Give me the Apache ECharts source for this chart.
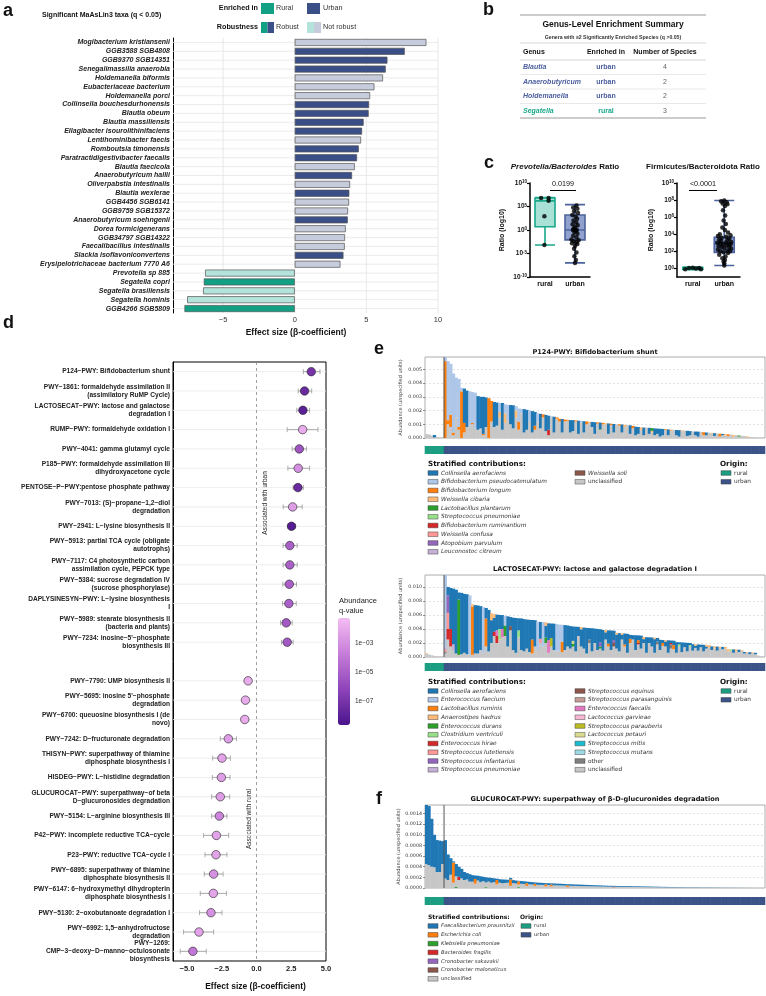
<!DOCTYPE html>
<html><head><meta charset="utf-8">
<script src="https://cdn.jsdelivr.net/npm/echarts@6/dist/echarts.min.js"></script>
<style>html,body{margin:0;padding:0;background:#fff}#c{width:766px;height:996px}</style>
</head><body><div id="c"></div>
<script>
// ================= DATA =================
// ---- Panel a: MaAsLin3 taxa
const taxa = ['Mogibacterium kristiansenii','GGB3588 SGB4808','GGB9370 SGB14351','Senegalimassilia anaerobia','Holdemanella biformis','Eubacteriaceae bacterium','Holdemanella porci','Collinsella bouchesdurhonensis','Blautia obeum','Blautia massiliensis','Ellagibacter isourolithinifaciens','Lentihominibacter faecis','Romboutsia timonensis','Paratractidigestivibacter faecalis','Blautia faecicola','Anaerobutyricum hallii','Oliverpabstia intestinalis','Blautia wexlerae','GGB4456 SGB6141','GGB9759 SGB15372','Anaerobutyricum soehngenii','Dorea formicigenerans','GGB34797 SGB14322','Faecalibacillus intestinalis','Slackia isoflavoniconvertens','Erysipelotrichaceae bacterium 7770 A6','Prevotella sp 885','Segatella copri','Segatella brasiliensis','Segatella hominis','GGB4266 SGB5809'];
const taxaBeta = [9.19,7.68,6.47,6.35,6.16,5.56,5.26,5.19,5.16,4.81,4.70,4.63,4.47,4.35,4.19,4.00,3.86,3.81,3.79,3.72,3.70,3.56,3.51,3.49,3.40,3.19,-6.26,-6.35,-6.40,-7.51,-7.70];
const taxaRobust = [0,1,1,1,0,0,0,1,1,1,1,0,1,1,0,1,0,1,0,0,1,0,0,0,1,0,0,1,0,0,1];
const taxaTicks = [-5,0,5,10];

// ---- Panel b: genus summary
const genusNames = ['Blautia','Anaerobutyricum','Holdemanella','Segatella'];
const genusEnriched = ['urban','urban','urban','rural'];
const genusCount = [4,2,2,3];

// ---- Panel c: ratios (log10 values)
const ratioGroups = ['rural','urban'];
const pbBox = [[-3.2,0.7,6.2,6.8,6.9],[-7.0,-2.1,0.0,3.2,5.4]];
const pbRuralPts = [[-0.13,6.8],[0.12,6.8],[0.12,6.2],[-0.02,2.9],[-0.02,-3.2]];
const pbUrbanPts = [[0.05,5.2],[-0.06,4.8],[0.08,4.5],[-0.03,4.0],[0.1,3.6],[-0.09,3.2],[0.02,2.8],[0.07,2.4],[-0.05,2.0],[0.04,1.6],[-0.08,1.2],[0.09,1.0],[0.0,0.6],[-0.04,0.3],[0.06,0.0],[-0.07,0.0],[0.03,-0.2],[-0.02,-0.4],[0.08,-0.8],[-0.06,-1.2],[0.05,-1.6],[-0.12,-2.0],[0.12,-2.2],[-0.05,-2.4],[0.05,-2.6],[-0.1,-2.8],[0.08,-3.0],[0.0,-3.4],[-0.03,-4.0],[0.05,-4.8],[-0.02,-5.6],[0.03,-6.4],[0.0,-7.0]];
const fbBox = [[-0.15,-0.1,0.0,0.1,0.15],[0.35,1.88,2.96,3.65,7.96]];
const fbRuralPts = [[-0.24,-0.1],[-0.12,0.05],[0.0,0.08],[0.1,0.0],[0.2,0.06],[0.26,-0.08]];
const fbUrbanPts = [[0.0,7.96],[-0.1,7.85],[0.08,7.75],[-0.05,7.6],[0.1,7.5],[0.02,7.3],[-0.04,6.8],[0.03,6.2],[-0.02,5.6],[0.05,5.2],[-0.06,4.8],[0.02,4.5],[0.12,4.2],[-0.14,4.0],[0.2,3.9],[-0.2,3.8],[0.06,3.7],[-0.08,3.6],[0.16,3.5],[-0.16,3.4],[0.1,3.3],[-0.1,3.2],[0.22,3.1],[-0.22,3.0],[0.04,3.0],[0.14,2.9],[-0.12,2.9],[0.2,2.8],[-0.04,2.8],[0.08,2.7],[-0.18,2.6],[0.16,2.5],[-0.08,2.5],[0.0,2.4],[0.22,2.3],[-0.2,2.2],[0.1,2.1],[-0.12,2.0],[0.18,2.0],[-0.02,1.9],[0.12,1.8],[-0.16,1.6],[0.04,1.4],[-0.06,1.2],[0.02,1.0],[-0.02,0.8],[0.0,0.6],[0.0,0.35]];
const pbP = '0.0199', fbP = '<0.0001';

// ---- Panel d: pathways
const pathNames = ['P124−PWY: Bifidobacterium shunt','PWY−1861: formaldehyde assimilation II\n(assimilatory RuMP Cycle)','LACTOSECAT−PWY: lactose and galactose\ndegradation I','RUMP−PWY: formaldehyde oxidation I','PWY−4041: gamma glutamyl cycle','P185−PWY: formaldehyde assimilation III\ndihydroxyacetone cycle','PENTOSE−P−PWY:pentose phosphate pathway','PWY−7013: (S)−propane−1,2−diol\ndegradation','PWY−2941: L−lysine biosynthesis II','PWY−5913: partial TCA cycle (obligate\nautotrophs)','PWY−7117: C4 photosynthetic carbon\nassimilation cycle, PEPCK type','PWY−5384: sucrose degradation IV\n(sucrose phosphorylase)','DAPLYSINESYN−PWY: L−lysine biosynthesis\nI','PWY−5989: stearate biosynthesis II\n(bacteria and plants)','PWY−7234: inosine−5\'−phosphate\nbiosynthesis III','','PWY−7790: UMP biosynthesis II','PWY−5695: inosine 5\'−phosphate\ndegradation','PWY−6700: queuosine biosynthesis I (de\nnovo)','PWY−7242: D−fructuronate degradation','THISYN−PWY: superpathway of thiamine\ndiphosphate biosynthesis I','HISDEG−PWY: L−histidine degradation','GLUCUROCAT−PWY: superpathway−of beta\nD−glucuronosides degradation','PWY−5154: L−arginine biosynthesis III','P42−PWY: incomplete reductive TCA−cycle','P23−PWY: reductive TCA−cycle I','PWY−6895: superpathway of thiamine\ndiphosphate biosynthesis II','PWY−6147: 6−hydroxymethyl dihydropterin\ndiphosphate biosynthesis I','PWY−5130: 2−oxobutanoate degradation I','PWY−6992: 1,5−anhydrofructose\ndegradation','PWY−1269:\nCMP−3−deoxy−D−manno−octulosonate\nbiosynthesis'];
const pathBeta = [3.94,3.46,3.34,3.32,3.08,3.0,2.98,2.6,2.52,2.4,2.4,2.36,2.33,2.14,2.21,null,-0.6,-0.79,-0.84,-2.02,-2.48,-2.52,-2.6,-2.67,-2.88,-2.91,-3.08,-3.1,-3.27,-4.13,-4.57];
const pathLo = [3.37,3.0,2.9,2.21,2.57,2.26,2.64,1.92,2.26,1.92,1.92,1.9,1.88,1.73,1.8,null,-0.6,-0.79,-0.84,-2.6,-3.15,-3.17,-3.22,-3.22,-3.8,-3.7,-3.75,-4.04,-4.09,-5.24,-5.48];
const pathHi = [4.57,3.97,3.82,4.42,3.6,3.82,3.37,3.29,2.81,2.93,2.93,2.88,2.86,2.57,2.64,null,-0.6,-0.79,-0.84,-1.44,-1.88,-1.9,-1.92,-2.12,-2.0,-2.12,-2.4,-2.16,-2.48,-3.08,-3.61];
const pathLogQ = [-7,-7.5,-8,-2,-5.5,-3,-7.5,-2.5,-8.2,-5,-5,-5,-5,-5.3,-5.3,null,-2,-2,-2,-2.5,-2.3,-2.5,-2.5,-3.5,-2.3,-2.3,-3,-2.2,-3,-2.3,-4];
const pathTicks = [-5,-2.5,0,2.5,5];
const qTickLabels = ['1e−03','1e−05','1e−07'];

// ---- Panels e/f: stratified contributions (7 rural + 118 urban samples)
const ruralN = 7, urbanN = 118;
// P124-PWY (units 1e-5)
const e1_unclassified = [30,26,18,4,8,4,2, 0,100,80,20,150,60,0,40,80,90, 100,70,60,70,20,80,0,120,80,90, 150,60,110,130,100,70,150,60,180,40, 60,120,40,60,120,70,150,50,20,150, 40,140,120,40,120,125,40,50,120,30, 115,40,100,110,80,30,105,60,100,100, 30,95,40,98,90,40,80,94,30,70, 20,30,60,20,75,30,40,20,30,10, 20,60,20,55,59,20,10,50,54,15, 20,48,20,10,44,20,20,38,30,15, 33,10,20,18,15,25,10,20,10,16, 14,6,8,6,4,3,2,1];
const e1_collinsella = [0,0,0,18,0,0,0, 0,0,0,0,0,0,0,250,265,0, 0,0,245,230,270,215,0,0,182,168, 0,195,0,0,140,168,0,0,0,170, 145,0,156,100,0,106,0,118,102,0, 115,0,0,98,0,0,90,80,0,96, 0,82,0,0,37,85,0,47,0,0, 76,0,62,0,0,58,0,0,62,0, 62,50,0,56,0,44,0,50,38,57, 46,0,42,0,0,38,47,0,0,37, 30,0,27,36,0,0,20,0,0,20, 0,0,10,0,0,0,0,0,0,0, 0,0,0,0,0,0,0,0];
const e1_pseudocatenulatum = [[7,33],[8,430],[9,370],[10,430],[11,290],[12,350],[13,25],[16,250],[17,225],[18,260],[27,66],[29,65],[30,112],[33,32],[34,95],[35,32],[38,80],[41,60],[46,8],[57,10],[70,2]];
const e1_longum = [[7,560],[8,30],[9,90],[10,20],[12,20],[13,340],[14,70],[17,10],[21,10],[23,290],[24,150],[34,60],[40,30],[43,22],[48,10],[49,20],[51,14],[52,7],[55,8],[59,20],[63,9],[65,10],[68,9],[71,10],[76,18],[88,5],[90,5],[102,22],[108,21],[111,12]];
const e1_cibaria = [[27,40],[29,70],[33,50],[60,8],[66,8],[73,16],[79,18],[83,12],[94,6],[105,6],[110,10],[113,12],[118,6]];
const e1_plantarum = [[64,5],[83,20],[115,8]];
const e1_ruminantium = [[45,40]];
// LACTOSECAT-PWY (units 1e-5)
const e2_unclassified = [45,35,25,15,10,8,5, 50,250,150,100,50,30,40,60,40,30, 30,50,50,100,60,150,80,200,300,200, 250,280,300,150,380,100,60,280,100,80, 120,70,50,150,100,200,150,200,60,150, 100,80,90,70,100,150,120,150,80,300, 150,120,50,200,80,200,100,120,90,250, 150,100,150,120,80,250,150,60,200,250, 100,180,120,200,60,200,150,60,180,100, 160,150,60,120,110,60,150,70,140,80, 150,90,130,90,140,80,120,140,100,120, 90,130,110,120,80,90,60,80,70,90, 50,60,40,55,40,20,10,5];
const e2_collinsella = [0,0,0,0,0,0,0, 0,120,585,795,910,100,875,840,855,0, 0,690,685,625,0,150,592,325,200,225, 200,198,0,430,130,460,496,172,450,460, 415,460,278,375,0,240,0,165,240,208, 375,0,0,0,355,300,320,205,352,130, 245,300,365,162,330,205,300,185,295,102, 190,278,135,200,260,68,155,270,55,62, 210,68,185,55,222,80,128,195,52,145, 42,70,178,35,62,152,30,138,65,122, 30,92,30,88,36,94,30,0,52,0, 58,0,34,0,0,0,48,0,34,0, 22,0,28,0,20,0,0,0];
const e2_faecium = [[7,1030],[16,850],[21,650],[29,135],[41,405],[43,348],[48,390],[49,372],[50,240]];
const e2_ruminis = [[17,690],[22,400],[39,200],[50,150],[67,40],[73,30],[75,60],[78,40],[87,40],[91,60]];
const e2_hadrus = [[0,10],[17,30],[24,100],[25,50],[44,50],[57,30],[66,30],[70,25],[72,20],[80,30],[84,20],[88,20],[99,20],[103,22],[104,30],[106,30],[108,16],[110,22],[111,32],[114,26],[116,10],[118,10],[120,10]];
const e2_durans = [[12,790],[29,150],[44,80],[54,40],[64,30]];
const e2_ventriculi = [[27,150],[34,100],[93,30],[97,20],[112,20]];
const e2_hirae = [[8,150],[9,250],[25,60],[26,100],[78,20],[90,20]];
const e2_lutetiensis = [[7,30],[8,230],[42,60]];
const e2_infantarius = [[8,250],[64,60],[69,40]];
const e2_pneumoniae = [[7,40],[10,80]];
const e2_equinus = [[31,60],[69,50]];
const e2_faecalis = [[26,80],[28,120],[45,180]];
const e2_parauberis = [[46,120]];
const e2_petauri = [[54,40]];
const e2_other = [[7,20],[60,50],[85,40],[90,60]];
// GLUCUROCAT-PWY (units 1e-6)
const f_unclassified = [450,430,400,390,300,300,450, 180,150,250,100,200,150,180,150,160,120, 120,80,140,110,130,90,120,100,110,70, 100,90,95,100,40,90,85,50,80,75, 40,70,65,40,60,60,58,30,55,30, 50,50,48,46,45,20,42,40,40,38, 36,35,34,33,32,30,30,28,27,26, 25,24,15,23,22,22,21,20,20,19, 19,18,18,17,16,16,15,15,14,14, 13,12,12,11,11,10,10,9,8,8, 7,7,6,6,6,6,5,5,5,5, 4,4,4,4,3,3,2,2,2,2, 2,1,1,1,1,1,1,0];
const f_faecalibacterium = [1110,1110,900,610,600,590,430, 720,480,310,20,230,190,180,150,120,140, 120,65,90,110,80,95,75,90,70,25, 65,70,63,55,30,58,55,10,50,50, 30,45,45,25,40,38,37,22,35,23, 35,32,32,32,30,22,28,28,26,26, 26,25,24,23,22,22,20,20,19,18, 17,17,15,16,16,15,15,15,14,14, 13,13,12,12,12,11,11,10,10,9, 9,9,8,8,7,7,6,6,6,5, 5,5,5,5,4,4,4,4,3,3, 3,3,2,2,2,2,2,2,1,1, 1,1,1,1,0,0,0,0];
const f_ecoli = [[10,380],[18,90],[26,80],[31,120],[34,60],[37,50],[40,40],[44,40],[46,35],[52,30]];
const f_klebsiella = [[11,20],[22,15],[34,15]];
const f_fragilis = [[12,60],[69,10]];

// ================= HELPERS =================
const LIB = 'Liberation Sans', MPL = 'DejaVu Sans';
const NS = ruralN + urbanN;
const sampleIds = Array.from({length: NS}, (_, i) => 'S' + (i + 1));
const sampleOrigin = sampleIds.map((_, i) => i < ruralN ? 'rural' : 'urban');
function dense(p) { if (!Array.isArray(p[0]) && p.length === NS) return p; const a = new Array(NS).fill(0); p.forEach(([i, v]) => a[i] = v); return a; }
const minus = v => (v < 0 ? '−' + Math.abs(v) : String(v));
const cRural = '#12a084', cUrban = '#3a4f87', cRuralNR = '#b3e3da', cUrbanNR = '#c6ccdb';
const oRural = '#1b9e82', oUrban = '#3b5387';

function T(text, x, y, o) { o = o || {}; const st = {text, fill: o.fill || '#111', fontSize: o.size || 7, fontFamily: o.family || LIB, fontWeight: o.weight || 'normal', fontStyle: o.style || 'normal', align: o.align || 'left', verticalAlign: o.valign || 'middle'}; if (o.rich) st.rich = o.rich; return {type: 'text', x, y, rotation: o.rot || 0, silent: true, style: st}; }
function R(x, y, w, h, fill, stroke, lw) { return {type: 'rect', silent: true, shape: {x, y, width: w, height: h}, style: {fill, stroke: stroke || null, lineWidth: lw || 0}}; }
function L(x1, y1, x2, y2, stroke, lw) { return {type: 'line', silent: true, shape: {x1, y1, x2, y2}, style: {stroke, lineWidth: lw || 1}}; }

// species definitions (legend order)
const e1Species = [
  {name: 'Collinsella aerofaciens', color: '#1f77b4', d: e1_collinsella},
  {name: 'Bifidobacterium pseudocatenulatum', color: '#aec7e8', d: e1_pseudocatenulatum},
  {name: 'Bifidobacterium longum', color: '#ff7f0e', d: e1_longum},
  {name: 'Weissella cibaria', color: '#ffbb78', d: e1_cibaria},
  {name: 'Lactobacillus plantarum', color: '#2ca02c', d: e1_plantarum},
  {name: 'Streptococcus pneumoniae', color: '#98df8a', d: []},
  {name: 'Bifidobacterium ruminantium', color: '#d62728', d: e1_ruminantium},
  {name: 'Weissella confusa', color: '#ff9896', d: []},
  {name: 'Atopobium parvulum', color: '#9467bd', d: []},
  {name: 'Leuconostoc citreum', color: '#c5b0d5', d: []},
  {name: 'Weissella soli', color: '#8c564b', d: []},
  {name: 'unclassified', color: '#c7c7c7', d: e1_unclassified}];
const e1Order = ['unclassified','Bifidobacterium longum','Weissella cibaria','Lactobacillus plantarum','Bifidobacterium ruminantium','Collinsella aerofaciens','Bifidobacterium pseudocatenulatum'];
const e2Species = [
  {name: 'Collinsella aerofaciens', color: '#1f77b4', d: e2_collinsella},
  {name: 'Enterococcus faecium', color: '#aec7e8', d: e2_faecium},
  {name: 'Lactobacillus ruminis', color: '#ff7f0e', d: e2_ruminis},
  {name: 'Anaerostipes hadrus', color: '#ffbb78', d: e2_hadrus},
  {name: 'Enterococcus durans', color: '#2ca02c', d: e2_durans},
  {name: 'Clostridium ventriculi', color: '#98df8a', d: e2_ventriculi},
  {name: 'Enterococcus hirae', color: '#d62728', d: e2_hirae},
  {name: 'Streptococcus lutetiensis', color: '#ff9896', d: e2_lutetiensis},
  {name: 'Streptococcus infantarius', color: '#9467bd', d: e2_infantarius},
  {name: 'Streptococcus pneumoniae', color: '#c5b0d5', d: e2_pneumoniae},
  {name: 'Streptococcus equinus', color: '#8c564b', d: e2_equinus},
  {name: 'Streptococcus parasanguinis', color: '#c49c94', d: []},
  {name: 'Enterococcus faecalis', color: '#e377c2', d: e2_faecalis},
  {name: 'Lactococcus garvieae', color: '#f7b6d2', d: []},
  {name: 'Streptococcus parauberis', color: '#bcbd22', d: e2_parauberis},
  {name: 'Lactococcus petauri', color: '#dbdb8d', d: e2_petauri},
  {name: 'Streptococcus mitis', color: '#17becf', d: []},
  {name: 'Streptococcus mutans', color: '#9edae5', d: []},
  {name: 'other', color: '#7f7f7f', d: e2_other},
  {name: 'unclassified', color: '#c7c7c7', d: e2_unclassified}];
const e2Order = ['unclassified','other','Streptococcus equinus','Enterococcus durans','Clostridium ventriculi','Enterococcus hirae','Streptococcus lutetiensis','Streptococcus infantarius','Streptococcus pneumoniae','Enterococcus faecalis','Streptococcus parauberis','Lactococcus petauri','Lactobacillus ruminis','Enterococcus faecium','Collinsella aerofaciens','Anaerostipes hadrus'];
const fSpecies = [
  {name: 'Faecalibacterium prausnitzii', color: '#1f77b4', d: f_faecalibacterium},
  {name: 'Escherichia coli', color: '#ff7f0e', d: f_ecoli},
  {name: 'Klebsiella pneumoniae', color: '#2ca02c', d: f_klebsiella},
  {name: 'Bacteroides fragilis', color: '#d62728', d: f_fragilis},
  {name: 'Cronobacter sakazakii', color: '#9467bd', d: []},
  {name: 'Cronobacter malonaticus', color: '#8c564b', d: []},
  {name: 'unclassified', color: '#c7c7c7', d: f_unclassified}];
const fOrder = ['Klebsiella pneumoniae','unclassified','Escherichia coli','Bacteroides fragilis','Faecalibacterium prausnitzii'];

// ================= OPTION =================
const grids = [
  {left: 173, top: 38, width: 265, height: 275},   // 0 a
  {left: 530, top: 183, width: 60, height: 94},    // 1 c left
  {left: 677, top: 183, width: 63, height: 94},    // 2 c right
  {left: 173, top: 362, width: 153, height: 605, show: true, borderColor: '#000', borderWidth: 1}, // 3 d
  {left: 425, top: 357, width: 340, height: 81, show: true, borderColor: '#9a9a9a', borderWidth: 0.8}, // 4 e1
  {left: 425, top: 446, width: 340, height: 8},    // 5
  {left: 425, top: 575, width: 340, height: 82, show: true, borderColor: '#9a9a9a', borderWidth: 0.8}, // 6 e2
  {left: 425, top: 663, width: 340, height: 8},    // 7
  {left: 425, top: 805, width: 340, height: 83, show: true, borderColor: '#9a9a9a', borderWidth: 0.8}, // 8 f
  {left: 425, top: 897, width: 340, height: 8}     // 9
];
const expLabel = {formatter: v => '{a|10}{b|' + minus(v).replace('−', '-') + '}', rich: {a: {fontSize: 6.5, fontWeight: 'bold', fontFamily: LIB, color: '#111'}, b: {fontSize: 4.5, fontWeight: 'bold', fontFamily: LIB, color: '#111', verticalAlign: 'top'}}, margin: 3};

function eY(grid, max, interval, dec) {
  return {gridIndex: grid, type: 'value', min: 0, max, interval, axisLine: {show: false}, axisTick: {show: true, length: 2, lineStyle: {color: '#444', width: 0.6}},
    axisLabel: {fontSize: 4.8, fontFamily: MPL, color: '#333', margin: 3, showMaxLabel: false, formatter: v => v.toFixed(dec)},
    splitLine: {show: true, lineStyle: {color: '#cfcfcf', type: [2, 2], width: 0.6}},
    name: 'Abundance (unspecified units)', nameLocation: 'middle', nameGap: 22, nameTextStyle: {fontSize: 5, fontFamily: MPL, color: '#444'}};
}
const xAxes = [
  {gridIndex: 0, type: 'value', min: -8.5, max: 10, axisLine: {onZero: false, lineStyle: {color: '#000', width: 1}}, axisTick: {customValues: taxaTicks, length: 3, lineStyle: {color: '#000'}}, axisLabel: {customValues: taxaTicks, fontSize: 7.5, color: '#333', margin: 3, formatter: minus}, splitLine: {show: false}},
  {gridIndex: 1, type: 'category', data: ratioGroups, axisLine: {onZero: false, lineStyle: {color: '#000', width: 1.5}}, axisTick: {alignWithLabel: true, length: 3, lineStyle: {width: 1.2}}, axisLabel: {fontSize: 7, fontWeight: 'bold', color: '#111', margin: 4}},
  {gridIndex: 1, type: 'value', min: -0.5, max: 1.5, show: false},
  {gridIndex: 2, type: 'category', data: ratioGroups, axisLine: {onZero: false, lineStyle: {color: '#000', width: 1.5}}, axisTick: {alignWithLabel: true, length: 3, lineStyle: {width: 1.2}}, axisLabel: {fontSize: 7, fontWeight: 'bold', color: '#111', margin: 4}},
  {gridIndex: 2, type: 'value', min: -0.5, max: 1.5, show: false},
  {gridIndex: 3, type: 'value', min: -6, max: 5, axisLine: {onZero: false, lineStyle: {color: '#000', width: 1}}, axisTick: {customValues: pathTicks, length: 3, lineStyle: {color: '#000'}}, axisLabel: {customValues: pathTicks, fontSize: 7.5, fontWeight: 'bold', color: '#222', margin: 4, formatter: v => (v < 0 ? '−' : '') + Math.abs(v).toFixed(1)}, splitLine: {show: false},
    name: 'Effect size (β-coefficient)', nameLocation: 'middle', nameGap: 21, nameTextStyle: {fontSize: 8.5, fontWeight: 'bold', color: '#111', padding: [0, 0, 0, 12]}},
  {gridIndex: 4, type: 'category', data: sampleIds, show: false},
  {gridIndex: 5, type: 'category', data: sampleIds, show: false},
  {gridIndex: 6, type: 'category', data: sampleIds, show: false},
  {gridIndex: 7, type: 'category', data: sampleIds, show: false},
  {gridIndex: 8, type: 'category', data: sampleIds, show: false},
  {gridIndex: 9, type: 'category', data: sampleIds, show: false}
];
const yAxes = [
  {gridIndex: 0, type: 'category', data: taxa, inverse: true, axisLine: {onZero: false, lineStyle: {color: '#000', width: 1}}, axisTick: {alignWithLabel: true, length: 3, lineStyle: {color: '#000'}}, axisLabel: {interval: 0, fontSize: 7, fontWeight: 'bold', fontStyle: 'italic', color: '#222', margin: 3}},
  Object.assign({gridIndex: 1, type: 'value', min: -10, max: 10, interval: 5, axisLine: {show: true, onZero: false, lineStyle: {color: '#000', width: 1.5}}, axisTick: {show: true, length: 3, lineStyle: {width: 1.2}}, splitLine: {show: false},
    name: 'Ratio (log10)', nameLocation: 'middle', nameGap: 24, nameTextStyle: {fontSize: 7, fontWeight: 'bold', color: '#111'}}, {axisLabel: expLabel}),
  {gridIndex: 2, type: 'value', min: -1, max: 10, axisLine: {show: true, onZero: false, lineStyle: {color: '#000', width: 1.5}}, axisTick: {show: true, customValues: [0, 2, 4, 6, 8, 10], length: 3, lineStyle: {width: 1.2}}, splitLine: {show: false},
    axisLabel: Object.assign({customValues: [0, 2, 4, 6, 8, 10]}, expLabel), name: 'Ratio (log10)', nameLocation: 'middle', nameGap: 22, nameTextStyle: {fontSize: 7, fontWeight: 'bold', color: '#111'}},
  {gridIndex: 3, type: 'category', data: pathNames, inverse: true, axisLine: {onZero: false, lineStyle: {color: '#000', width: 1}}, axisTick: {alignWithLabel: true, length: 3, interval: (i, v) => v !== '', lineStyle: {color: '#000'}}, axisLabel: {interval: 0, fontSize: 6.6, fontWeight: 'bold', color: '#222', lineHeight: 8, margin: 3, align: 'right'}},
  eY(4, 0.0059, 0.001, 3),
  {gridIndex: 5, type: 'value', min: 0, max: 1, show: false},
  eY(6, 0.0117, 0.002, 3),
  {gridIndex: 7, type: 'value', min: 0, max: 1, show: false},
  eY(8, 0.00156, 0.0002, 4),
  {gridIndex: 9, type: 'value', min: 0, max: 1, show: false}
];

const series = [];
// ---- panel a
series.push({type: 'custom', xAxisIndex: 0, yAxisIndex: 0, silent: true, z: 1, data: taxa.map((_, i) => [0, i]), encode: {x: 0, y: 1},
  renderItem: (p, api) => { const cs = p.coordSys; const y = api.coord([0, api.value(1)])[1]; return {type: 'line', shape: {x1: cs.x, y1: y, x2: cs.x + cs.width, y2: y}, style: {stroke: '#e6e6e6', lineWidth: 0.8}}; }});
series.push({type: 'custom', xAxisIndex: 0, yAxisIndex: 0, silent: true, z: 1, data: taxaTicks.map(v => [v, 0]), encode: {x: 0, y: 1},
  renderItem: (p, api) => { const cs = p.coordSys; const x = api.coord([api.value(0), 0])[0]; return {type: 'line', shape: {x1: x, y1: cs.y, x2: x, y2: cs.y + cs.height}, style: {stroke: '#e3e3e3', lineWidth: 0.8}}; }});
series.push({type: 'bar', xAxisIndex: 0, yAxisIndex: 0, z: 3, barWidth: 7, silent: true,
  itemStyle: {borderColor: '#555', borderWidth: 0.7},
  data: taxaBeta.map((v, i) => ({value: v, itemStyle: {color: v > 0 ? (taxaRobust[i] ? cUrban : cUrbanNR) : (taxaRobust[i] ? cRural : cRuralNR)}}))});
// ---- panel c
const boxStyle = (fill, border) => ({color: fill, borderColor: border, borderWidth: 1.6});
series.push({type: 'boxplot', xAxisIndex: 1, yAxisIndex: 1, boxWidth: [20, 20], silent: true,
  data: [{value: pbBox[0], itemStyle: boxStyle('#a9e1d6', '#1aa88b')}, {value: pbBox[1], itemStyle: boxStyle('#8fa1cc', '#4d639d')}]});
series.push({type: 'scatter', xAxisIndex: 2, yAxisIndex: 1, symbolSize: 4.5, silent: true, itemStyle: {color: '#000'}, z: 5,
  data: pbRuralPts.map(p => [0 + p[0], p[1]]).concat(pbUrbanPts.map(p => [1 + p[0], p[1]]))});
series.push({type: 'boxplot', xAxisIndex: 3, yAxisIndex: 2, boxWidth: [20, 20], silent: true,
  data: [{value: fbBox[0], itemStyle: boxStyle('#a9e1d6', '#1aa88b')}, {value: fbBox[1], itemStyle: boxStyle('#8396c6', '#4d639d')}]});
series.push({type: 'scatter', xAxisIndex: 4, yAxisIndex: 2, symbolSize: 4.5, silent: true, itemStyle: {color: '#000'}, z: 5,
  data: fbRuralPts.map(p => [0 + p[0], p[1]]).concat(fbUrbanPts.map(p => [1 + p[0], p[1]]))});
// ---- panel d
series.push({type: 'custom', xAxisIndex: 5, yAxisIndex: 3, silent: true, z: 1, data: pathNames.map((n, i) => [0, i]).filter(d => pathNames[d[1]] !== ''), encode: {x: 0, y: 1},
  renderItem: (p, api) => { const cs = p.coordSys; const y = api.coord([0, api.value(1)])[1]; return {type: 'line', shape: {x1: cs.x, y1: y, x2: cs.x + cs.width, y2: y}, style: {stroke: '#e8e8e8', lineWidth: 0.8}}; }});
series.push({type: 'custom', xAxisIndex: 5, yAxisIndex: 3, silent: true, z: 2, data: pathLo.map((lo, i) => lo == null ? null : [lo, pathHi[i], i]).filter(Boolean), encode: {x: [0, 1], y: 2},
  renderItem: (p, api) => { const a = api.coord([api.value(0), api.value(2)]); const b = api.coord([api.value(1), api.value(2)]); const y = a[1], s = {stroke: '#999', lineWidth: 0.8};
    return {type: 'group', children: [{type: 'line', shape: {x1: a[0], y1: y, x2: b[0], y2: y}, style: s}, {type: 'line', shape: {x1: a[0], y1: y - 2.5, x2: a[0], y2: y + 2.5}, style: s}, {type: 'line', shape: {x1: b[0], y1: y - 2.5, x2: b[0], y2: y + 2.5}, style: s}]}; }});
const dScatterIdx = series.length;
series.push({type: 'scatter', xAxisIndex: 5, yAxisIndex: 3, symbolSize: 8.5, silent: true, z: 4, itemStyle: {borderColor: '#222', borderWidth: 0.6, opacity: 1},
  encode: {x: 0, y: 1}, data: pathBeta.map((b, i) => b == null ? null : [b, i, pathLogQ[i]]).filter(Boolean),
  markLine: {silent: true, symbol: 'none', label: {show: false}, lineStyle: {color: '#888', type: [3, 3], width: 0.8}, data: [{xAxis: 0}]}});
// ---- panels e/f stacked bars (custom rects, slightly overlapping to avoid seams)
function stacked(species, order, xi, yi, scale) {
  const cols = order.map(nm => species.find(q => q.name === nm));
  const arrs = cols.map(s => dense(s.d));
  const data = sampleIds.map((_, i) => [i].concat(arrs.map(a => a[i] / scale)));
  series.push({type: 'custom', xAxisIndex: xi, yAxisIndex: yi, silent: true, clip: true, z: 2, encode: {x: 0, y: 1}, data,
    renderItem: (p, api) => {
      const idx = api.value(0), bw = api.size([1, 0])[0], cx = api.coord([idx, 0])[0];
      let cum = 0; const children = [];
      cols.forEach((s, k) => { const v = api.value(k + 1); if (!v) return;
        const y0 = api.coord([idx, cum])[1]; cum += v; const y1 = api.coord([idx, cum])[1];
        children.push({type: 'rect', shape: {x: cx - bw / 2 - 0.25, y: y1, width: bw + 0.5, height: y0 - y1}, style: {fill: s.color}}); });
      return {type: 'group', children};
    }});
  series.push({type: 'custom', xAxisIndex: xi + 1, yAxisIndex: yi + 1, silent: true, encode: {x: 0, y: 1},
    data: sampleOrigin.map((o, i) => [i, 1, o === 'rural' ? 0 : 1]),
    renderItem: (p, api) => { const idx = api.value(0), bw = api.size([1, 0])[0], cx = api.coord([idx, 0])[0]; const cs = p.coordSys;
      return {type: 'rect', shape: {x: cx - bw / 2 - 0.3, y: cs.y, width: bw + 0.6, height: cs.height}, style: {fill: api.value(2) === 0 ? oRural : oUrban}}; }});
  series.push({type: 'custom', xAxisIndex: xi, yAxisIndex: yi, silent: true, z: 5, data: [[ruralN - 1, 0, ruralN]], encode: {x: 0, y: 1},
    renderItem: (p, api) => { const cs = p.coordSys; const x = (api.coord([api.value(0), 0])[0] + api.coord([api.value(2), 0])[0]) / 2;
      return {type: 'line', shape: {x1: x, y1: cs.y, x2: x, y2: cs.y + cs.height}, style: {stroke: '#555', lineWidth: 1}}; }});
}
stacked(e1Species, e1Order, 6, 4, 1e5);
stacked(e2Species, e2Order, 8, 6, 1e5);
stacked(fSpecies, fOrder, 10, 8, 1e6);

// ================= GRAPHICS (labels, legends, table) =================
const G = [];
// panel labels
G.push(T('a', 3, 11, {size: 18, weight: 'bold'}));
G.push(T('b', 483, 10, {size: 18, weight: 'bold'}));
G.push(T('c', 484, 163, {size: 18, weight: 'bold'}));
G.push(T('d', 3, 323, {size: 18, weight: 'bold'}));
G.push(T('e', 374, 349, {size: 18, weight: 'bold'}));
G.push(T('f', 376, 799, {size: 18, weight: 'bold'}));
// panel a legend & titles
G.push(T('Significant MaAsLin3 taxa (q < 0.05)', 42, 15.5, {size: 7, weight: 'bold'}));
G.push(T('Enriched in', 258, 8.5, {size: 7.2, weight: 'bold', align: 'right'}));
G.push(R(261, 3, 13, 11, cRural)); G.push(T('Rural', 276, 8.5, {size: 7.2, fill: '#333'}));
G.push(R(307, 3, 13, 11, cUrban)); G.push(T('Urban', 323, 8.5, {size: 7.2, fill: '#333'}));
G.push(T('Robustness', 258, 27.5, {size: 7.2, weight: 'bold', align: 'right'}));
G.push(R(261, 22, 6.5, 11, cRural)); G.push(R(267.5, 22, 6.5, 11, cUrban)); G.push(T('Robust', 276, 27.5, {size: 7.2, fill: '#333'}));
G.push(R(307, 22, 7, 11, cRuralNR)); G.push(R(314, 22, 7, 11, cUrbanNR)); G.push(T('Not robust', 323, 27.5, {size: 7.2, fill: '#333'}));
G.push(T('Effect size (β-coefficient)', 296, 333, {size: 8.5, weight: 'bold', align: 'center'}));
// panel b table
G.push(L(520, 15, 706, 15, '#999', 1));
G.push(T('Genus-Level Enrichment Summary', 613, 24.5, {size: 8.5, weight: 'bold', align: 'center'}));
G.push(T('Genera with ≥2 Significantly Enriched Species (q >0.05)', 613, 38, {size: 5.2, weight: 'bold', align: 'center', fill: '#333'}));
G.push(L(520, 43, 706, 43, '#ccc', 0.8));
G.push(T('Genus', 523, 52.5, {size: 7, weight: 'bold'}));
G.push(T('Enriched in', 606, 52.5, {size: 7, weight: 'bold', align: 'center'}));
G.push(T('Number of Species', 665, 52.5, {size: 7, weight: 'bold', align: 'center'}));
G.push(L(520, 60, 706, 60, '#ccc', 0.8));
genusNames.forEach((g, i) => {
  const y = 67.5 + i * 14.5; const col = genusEnriched[i] === 'urban' ? '#4a5e9e' : '#19a88a';
  G.push(T(g, 523, y, {size: 7, weight: 'bold', style: 'italic', fill: col}));
  G.push(T(genusEnriched[i], 606, y, {size: 7, weight: 'bold', align: 'center', fill: col}));
  G.push(T(String(genusCount[i]), 665, y, {size: 7, align: 'center', fill: '#666'}));
  G.push(L(520, y + 7, 706, y + 7, i === genusNames.length - 1 ? '#999' : '#e2e2e2', i === genusNames.length - 1 ? 1 : 0.8));
});
// panel c titles & brackets
G.push(T('{i|Prevotella/Bacteroides}{n| Ratio}', 565, 167, {align: 'center', rich: {i: {fontSize: 8, fontWeight: 'bold', fontStyle: 'italic', fontFamily: LIB, fill: '#111'}, n: {fontSize: 8, fontWeight: 'bold', fontFamily: LIB, fill: '#111'}}}));
G.push(T('Firmicutes/Bacteroidota Ratio', 703, 167, {size: 8, weight: 'bold', align: 'center'}));
G.push(L(550, 190.5, 576, 190.5, '#000', 1)); G.push(T(pbP, 563, 184.5, {size: 7.2, align: 'center'}));
G.push(L(689, 190.5, 717, 190.5, '#000', 1)); G.push(T(fbP, 703, 184.5, {size: 7.2, align: 'center'}));
// panel d annotations & colour bar labels
G.push(T('Associated with urban', 265, 503, {size: 6.5, align: 'center', rot: Math.PI / 2, fill: '#222'}));
G.push(T('Associated with rural', 249.5, 819, {size: 6.5, align: 'center', rot: Math.PI / 2, fill: '#222'}));
G.push(T('Abundance', 339, 601, {size: 7.5, fill: '#222'}));
G.push(T('q-value', 339, 610.5, {size: 7.5, fill: '#222'}));
qTickLabels.forEach((t, i) => { const y = [643, 672.5, 701.5][i]; G.push(T(t, 355, y, {size: 6.5, fill: '#333'})); G.push(L(338, y, 341, y, '#fff', 0.8)); G.push(L(347, y, 350, y, '#fff', 0.8)); });
// panels e/f titles
G.push(T('P124-PWY: Bifidobacterium shunt', 595, 352, {size: 6.6, weight: 'bold', family: MPL, align: 'center'}));
G.push(T('LACTOSECAT-PWY: lactose and galactose degradation I', 595, 569.5, {size: 6.6, weight: 'bold', family: MPL, align: 'center'}));
G.push(T('GLUCUROCAT-PWY: superpathway of β-D-glucuronides degradation', 595, 799.5, {size: 6.6, weight: 'bold', family: MPL, align: 'center'}));
function stratLegend(species, y0, perCol, originX, titleSize, itemSize, step) {
  G.push(T('Stratified contributions:', 428, y0, {size: titleSize, weight: 'bold', family: MPL}));
  species.forEach((s, i) => {
    const col = i < perCol ? 0 : 1, row = i < perCol ? i : i - perCol;
    const x = col ? 575 : 428, y = y0 + 9 + row * step;
    G.push(R(x, y - 2.3, 10, 4.6, s.color, '#444', 0.5));
    const plain = s.name === 'unclassified' || s.name === 'other';
    G.push(T(s.name, x + 13, y, {size: itemSize, family: MPL, style: plain ? 'normal' : 'italic', fill: '#333'}));
  });
  G.push(T('Origin:', originX, y0, {size: titleSize, weight: 'bold', family: MPL}));
  [['rural', oRural], ['urban', oUrban]].forEach(([n, c], i) => {
    const y = y0 + 9 + i * step; G.push(R(originX + 1, y - 2.3, 10, 4.6, c, '#444', 0.5)); G.push(T(n, originX + 14, y, {size: itemSize, family: MPL, fill: '#333'}));
  });
}
stratLegend(e1Species, 464, 10, 720, 7.2, 5.8, 8.75);
stratLegend(e2Species, 682, 10, 720, 7.2, 5.8, 8.75);
stratLegend(fSpecies, 917, 7, 520, 6.0, 5.2, 8.8);

const option = {
  animation: false,
  textStyle: {fontFamily: LIB},
  grid: grids, xAxis: xAxes, yAxis: yAxes, series,
  visualMap: [{type: 'continuous', seriesIndex: dScatterIdx, dimension: 2, min: -8.6, max: -1.33, calculable: false, orient: 'vertical',
    left: 338, top: 618, itemWidth: 12, itemHeight: 107, padding: 0, inRange: {color: ['#4a148c', '#8e44b8', '#c77dd9', '#f4bdf2']}}],
  graphic: G
};
const chart = echarts.init(document.getElementById('c'), null, {width: 766, height: 996});
chart.setOption(option);
</script></body></html>
